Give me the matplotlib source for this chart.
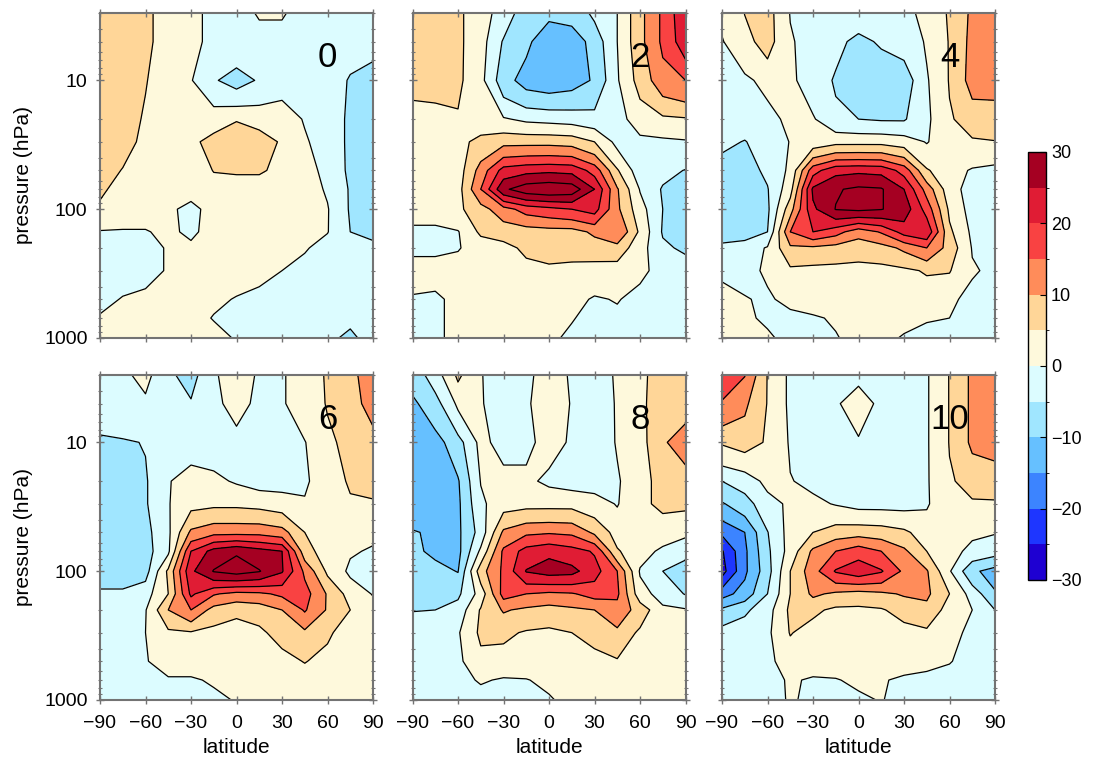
import matplotlib.pyplot as plt
import numpy as np
from matplotlib.colors import ListedColormap, BoundaryNorm
from matplotlib.cm import ScalarMappable
from matplotlib.ticker import FixedLocator, LogLocator, NullFormatter, FuncFormatter

plt.rcParams['font.family'] = ['Liberation Sans', 'DejaVu Sans']

lats = [-90, -75, -60, -45, -30, -15, 0, 15, 30, 45, 60, 75, 90]
plevs = [3, 5, 10, 20, 30, 50, 70, 100, 150, 200, 300, 500, 700, 1000]

# rows follow plevs (3 hPa first), columns follow lats
day0 = [
    [7, 7, 6, 3, 2, -2, -2, 0.5, 0.5, -2, -2, -3, -3],
    [7, 7, 6, 3, 2, -2, -2, -2, -2, -2, -2, -3, -3.5],
    [7, 7, 5.2, 3, 0.3, -4.5, -7, -4.5, -1.5, -0.5, -2, -5.5, -7],
    [7, 7, 4.5, 2.5, 2, 3, 4.8, 3.5, 2, -0.3, -2, -6, -7],
    [7, 6.5, 4, 2.5, 4, 6.5, 7, 7, 4.5, 0.5, -2, -6, -7],
    [7, 4.8, 3, 2, 2, 5.2, 5.5, 5.5, 4, 2, -1.5, -6, -7],
    [6, 3, 2, 2, 2, 3, 3, 3, 3, 2, -0.5, -5.5, -7],
    [4, 2, 2, 1, -1.5, 2, 2, 2, 2, 2, 0.3, -5.5, -7],
    [-0.3, -0.3, -0.3, 1, -1, 2, 2, 2, 2, 2, 0.2, -5, -6],
    [-2, -2, -2, 0.5, 1, 2, 2, 2, 2, 0.5, -2, -3, -4],
    [-2, -2, -2, 0.5, 2, 2, 2, 2, 0, -2, -2, -2.5, -2.5],
    [-1.5, 0.3, 1.5, 2, 2, 1, -0.3, -2, -2, -2, -2, -2, -2],
    [0.5, 1.5, 2, 2, 2, -0.3, -2, -2, -2, -2, -2, -4, -2],
    [2, 2, 2, 2, 2, 2, -0.5, -2, -2, -2, -4, -6, -3],
]

day2 = [
    [7, 7, 6, 2, -2, -8, -9, -8, -4, 0, 8.5, 16, 24],
    [7, 7, 6, 2, -5.5, -9, -13, -13, -8, 0, 8.5, 16, 23],
    [6.5, 6.5, 6, 1.5, -8, -12, -13, -12, -9.5, -0.5, 7, 13, 15],
    [3, 3.5, 4.5, 2, 0.5, -1, -1.5, -2, -3, -1.5, 2, 4, 4.5],
    [3, 3, 3.5, 6.5, 8.5, 8.5, 8.5, 8, 5, -1.5, -1, -1, -0.5],
    [2.5, 2.5, 2.5, 12, 22, 23.5, 24, 23.5, 18, 5.5, -3, -3.5, -5.2],
    [2, 2, 3, 15, 29, 33, 34, 33, 25, 10.5, -0.3, -5.5, -7],
    [2, 2, 4, 8, 13, 17, 18.5, 20, 22, 11, 2, -5, -8],
    [-1, -1, -0.3, 6, 7, 7.5, 8, 8, 11, 15, 4, -5.5, -8],
    [-1, -1, -0.3, 2, 3.5, 6, 7, 7, 7.5, 8, 2, -4, -6],
    [2, 2, 2, 2.5, 3, 3.5, 4, 3.5, 3, 2.5, 1, -1.5, -2],
    [-0.5, -1, 1.5, 2.5, 3, 3, 2.5, 1.5, -0.5, 0.3, -1.5, -2, -2],
    [-0.5, -1, 1.5, 2.5, 2.5, 2.5, 2, 0.3, -1.5, -1, -2, -2, -2],
    [-0.5, -1, 1.5, 2, 2, 2, 1, -1, -2, -2, -2, -2, -2],
]

day4 = [
    [1, 5.1, 7, -0.2, -2, -2, -3, -3, -2, 2, 5.5, 11, 13],
    [-0.3, 3.5, 7, 0.5, -2, -4, -6, -4.5, -3, 0.5, 5.3, 11.5, 13],
    [-2, -1, 1.5, 1, -2.5, -5.5, -8, -8, -8, -0.5, 5.3, 12, 11.5],
    [-3, -3, -2, 1.5, 0.5, -4, -5, -5.5, -5.5, -1, 4.5, 7, 8],
    [-4, -5.2, -3, 0.2, 2, 3.5, 3.5, 3.5, 2.5, -0.3, 3, 4.5, 4.8],
    [-7, -7, -4, 1, 18, 23.5, 24, 23.5, 18, 5.5, 2, -0.5, -1.5],
    [-8, -8, -5.3, 3, 26, 29.5, 31, 30.5, 25, 13, 2, -2, -3],
    [-8, -8, -6, 8, 24, 30.2, 31, 30.2, 28, 18, 4, -2, -3],
    [-7, -7, -5, 15, 20, 17, 12, 15.5, 22, 24, 6, -1, -2],
    [-4, -3, 0.5, 9, 9, 8, 7, 8, 11, 15, 8, -0.3, -1.5],
    [-0.5, -1, 0.5, 4, 3.5, 3.5, 3.5, 3.5, 4, 5.5, 5.3, 0.5, -1],
    [1, 0.2, -0.5, 1, 2, 2, 2, 2, 2, 2, 1, -1.5, -2],
    [1.5, 0.5, -0.5, -1, -0.5, 0.5, 2, 2, 1.5, 0.5, 0, -2, -2],
    [1, 1, 0.5, -1, -1, -0.3, 1.5, 1.5, -0.5, -2, -2, -2, -2],
]

day6 = [
    [-2, -1, 1.5, -4, -7, -0.5, 2, -0.5, -0.5, 2.5, 5.5, 9, 12],
    [-2, -1.5, -1, -2, -4.5, -1, 1.5, -1, -0.5, 2.5, 5.3, 8.5, 11.5],
    [-6, -5.5, -4.8, -2, -2, -2, -1.5, -2, -1.5, -0.2, 4, 6.5, 8.5],
    [-7, -7, -5.5, -0.3, 2, 1, -0.5, -2, -2, -0.8, 3, 5.5, 6.5],
    [-7.5, -7.5, -5.5, -0.3, 3.5, 4, 4, 3.5, 2.5, 0.5, 2.5, 4.5, 4.5],
    [-8, -8, -6.5, -1, 11, 13.5, 13.5, 13.5, 12, 5, 3, 2, 1],
    [-8, -8, -7, -1, 20, 27, 29.5, 27, 25, 7, 2.5, 0.5, -0.5],
    [-8, -8, -7, 6, 24, 30.3, 32, 30.3, 25.5, 14, 4, -1, -3],
    [-4, -4, -2, 5, 21, 15.5, 13.5, 14, 16, 17, 9.5, 3, -0.3],
    [-3, -3, -0.3, 10, 15, 8, 6, 7, 10, 15.5, 9.5, 5, 2],
    [-2.5, -2, 0, 4, 4.5, 3.5, 3, 4, 7, 9, 6, 2, 1.5],
    [-2, -2, -0.3, 2, 2, 2.5, 2.5, 2.5, 3, 5.3, 3, 2, 1.5],
    [-2, -2, -2, -0.5, -0.5, 0.5, 2, 2, 2, 2, 2, 1.5, 1.5],
    [-2, -2, -2, -2, -2, -1, 0.3, 2, 2, 2, 2, 1.5, 1.5],
]

day8 = [
    [-8, -2.5, 6, 0.2, -2, -1, 2, -0.5, -2, 0.5, 4, 7, 8],
    [-11, -7, 1, 0.3, -2, -0.5, 2, -0.2, -2, 0.3, 4, 7.5, 8.5],
    [-13, -12, -7, 1.5, -2, -1, 1.5, -0.5, -2.5, 0.3, 3, 9.5, 12],
    [-14, -13, -10.5, 0.2, 2, 1, -1, -2, -2, -0.5, 3, 7, 8],
    [-14, -13.5, -11, -1, 3, 3.5, 3.5, 3.5, 2, -0.3, 4, 6, 6],
    [-9.5, -11, -11, -3, 11, 14, 14.5, 14, 9, 3, 3, 2.5, 1],
    [-9, -11, -11.5, 1, 16, 22, 24, 22, 19.5, 5.5, 2, -1, -3],
    [-7.5, -8.5, -10.2, 8, 16, 25.3, 27, 26.5, 22, 15, -0.5, -5, -8],
    [-7, -7, -6, 2, 17, 15, 14, 14.5, 17, 16, 2, -2, -5.3],
    [-5.2, -5, -3, 5.5, 10.5, 9, 8, 9, 10, 13, 8, 1, 0.5],
    [-2, -2, -0.5, 6, 6, 4.5, 4, 5, 7, 9, 4, 2, 1.5],
    [-2, -2, -1, 3.5, 3, 2.5, 2.5, 2.5, 3, 4.5, 3, 2, 2],
    [-2, -2, -1.5, 0.5, -0.5, -0.2, 1, 2, 2, 2, 2, 2, 2],
    [-2, -2, -2, -2, -2, -2, -0.5, 1.5, 2, 2, 2, 2, 2],
]

day10 = [
    [18, 15.2, 4.8, -1, -2, -2, -1, -2, -2, -0.5, 5.2, 11, 13],
    [14.5, 11, 4.8, -1, -2, -0.5, 2, -1, -2, -0.5, 5.2, 11, 13],
    [5.5, 7, 4.5, -0.5, -2, -2, -0.5, -2, -2, -0.5, 5.2, 11, 12],
    [-5, -3, 1.5, 0.2, -1, -2, -2, -2, -2, -0.5, 4.5, 6.5, 7],
    [-10.5, -7, -2, 1, 1, -0.3, -1.5, -1.5, -1.5, -0.5, 3.5, 4.5, 4.5],
    [-19, -15, -5.2, 2, 5, 7.5, 8, 7.5, 6, 2.5, 2, 1, 0.3],
    [-25.5, -16, -6, 2, 11, 15, 18, 15, 11, 5, 2, -1.5, -3],
    [-27, -16, -7, 5, 13, 20.5, 23, 20.5, 14, 10.5, 0.5, -9, -12],
    [-17, -13, -5, 5, 11, 9, 8, 9, 10.5, 11, 5, -2, -9.5],
    [-9, -6, -2, 6, 6, 4, 4, 4.5, 7, 8.5, 3, 0, -5],
    [-3, -2, -1, 5.3, 3, 2.5, 2.5, 2.5, 3, 4, 2, -1.5, -2],
    [-2, -2, -1, 2, 2, 2.5, 2.5, 2.5, 2.5, 2, 0.3, -2, -2],
    [-2, -2, -1.5, 0.5, -0.5, -0.3, 1, 0.5, -1, -2, -2, -2, -2],
    [-2, -2, -2, 0.5, -1, -2, -1, 0.3, -2, -2, -2, -2, -2],
]

panel_labels = ['0', '2', '4', '6', '8', '10']
panel_data = [day0, day2, day4, day6, day8, day10]

levels = np.arange(-30, 31, 5)
colors = ['#1e00d2', '#1e36ff', '#3c84ff', '#66c0ff', '#a0e6ff', '#dcfcff',
          '#fef9dc', '#ffd698', '#ff8c5a', '#f94242', '#e01c34', '#a50022']
cmap = ListedColormap(colors)
cmap.set_over(colors[-1])
cmap.set_under(colors[0])

fig = plt.figure(figsize=(10.94, 7.61), dpi=100)
W, H = 1094.0, 761.0
lefts = [100, 412.5, 722]
tops = [13, 375]
aw, ah = 273, 325
spine_col = '0.45'

for i, (lab, data) in enumerate(zip(panel_labels, panel_data)):
    r, c = divmod(i, 3)
    ax = fig.add_axes([lefts[c] / W, 1 - (tops[r] + ah) / H, aw / W, ah / H])
    z = np.array(data)
    cf = ax.contourf(lats, plevs, z, levels=levels, cmap=cmap, extend='both')
    ax.contour(lats, plevs, z, levels=levels, colors='k', linewidths=0.9,
               negative_linestyles='solid')
    ax.set_yscale('log')
    ax.set_ylim(1000, 3)
    ax.set_xlim(-90, 90)
    ax.set_xticks([-90, -60, -30, 0, 30, 60, 90])
    ax.yaxis.set_major_locator(FixedLocator([10, 100, 1000]))
    ax.yaxis.set_major_formatter(FuncFormatter(lambda v, p: '%d' % v))
    ax.yaxis.set_minor_locator(LogLocator(base=10, subs=np.arange(2, 10)))
    ax.yaxis.set_minor_formatter(NullFormatter())
    ax.tick_params(which='both', direction='inout', top=True, right=True,
                   color=spine_col, labelsize=14, pad=6)
    ax.tick_params(axis='x', pad=8)
    ax.tick_params(which='major', length=6, width=1)
    ax.tick_params(which='minor', length=3, width=0.8)
    for s in ax.spines.values():
        s.set_color(spine_col)
        s.set_linewidth(1.5)
    if r == 0:
        ax.tick_params(labelbottom=False)
    else:
        ax.set_xlabel('latitude', fontsize=15, labelpad=4)
    if c == 0:
        ax.set_ylabel('pressure (hPa)', fontsize=15)
        ax.yaxis.set_label_coords(-0.245, 0.5)
    else:
        ax.tick_params(labelleft=False)
    ax.text(60, 6.6, lab, fontsize=25, ha='center', va='center')

cax = fig.add_axes([1028 / W, 1 - 580 / H, 18 / W, 428 / H])
sm = ScalarMappable(norm=BoundaryNorm(levels, len(colors)), cmap=ListedColormap(colors))
cb = fig.colorbar(sm, cax=cax, ticks=[-30, -20, -10, 0, 10, 20, 30])
cb.outline.set_linewidth(1)
cax.tick_params(direction='in', length=4, labelsize=13)

fig.savefig('out.png', dpi=100)
